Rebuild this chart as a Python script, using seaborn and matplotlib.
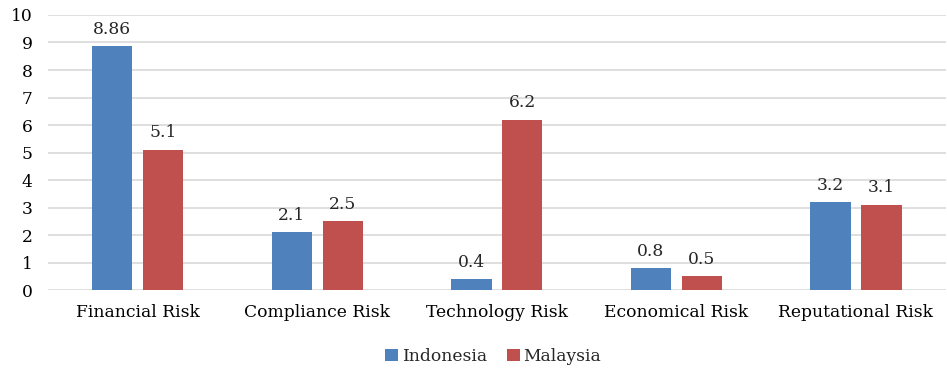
import matplotlib
matplotlib.use("Agg")
import matplotlib.pyplot as plt
import pandas as pd
import seaborn as sns

categories = ["Financial Risk", "Compliance Risk", "Technology Risk",
              "Economical Risk", "Reputational Risk"]
indonesia = [8.86, 2.1, 0.4, 0.8, 3.2]
malaysia = [5.1, 2.5, 6.2, 0.5, 3.1]
labels_indonesia = ["8.86", "2.1", "0.4", "0.8", "3.2"]
labels_malaysia = ["5.1", "2.5", "6.2", "0.5", "3.1"]

sns.set_style("white")
plt.rcParams['font.family'] = ['DejaVu Serif']

data = pd.DataFrame({
    "Category": categories * 2,
    "Value": indonesia + malaysia,
    "Country": ["Indonesia"] * 5 + ["Malaysia"] * 5,
})

fig = plt.figure(figsize=(9.47, 3.7), dpi=100)
ax = fig.add_axes([0.0507, 0.216, 0.948, 0.7435])

sns.barplot(data=data, x="Category", y="Value", hue="Country",
            palette=["#4F81BD", "#C0504D"], width=0.567, gap=0.21,
            saturation=1, linewidth=0, ax=ax, zorder=3)

ax.set_xlim(-0.5, 4.5)
ax.set_ylim(0, 10)
ax.set_yticks(range(0, 11))
ax.yaxis.grid(True, color="#D9D9D9", linewidth=1.2, zorder=0)
ax.set_axisbelow(True)
for s in ax.spines.values():
    s.set_visible(False)
ax.set_xlabel("")
ax.set_ylabel("")
ax.tick_params(axis="both", length=0, labelsize=12.3, colors="#000000")
ax.tick_params(axis="x", pad=10)
ax.tick_params(axis="y", pad=11)

# value labels above bars
for cont, labs in zip(ax.containers, [labels_indonesia, labels_malaysia]):
    ax.bar_label(cont, labels=labs, padding=6, fontsize=12.3)

ax.legend(loc="upper center", bbox_to_anchor=(0.496, -0.155), ncol=2,
          frameon=False, fontsize=12.3, handlelength=0.75, handleheight=0.75,
          handletextpad=0.2, columnspacing=1.2)

plt.savefig("out.png", dpi=100)
